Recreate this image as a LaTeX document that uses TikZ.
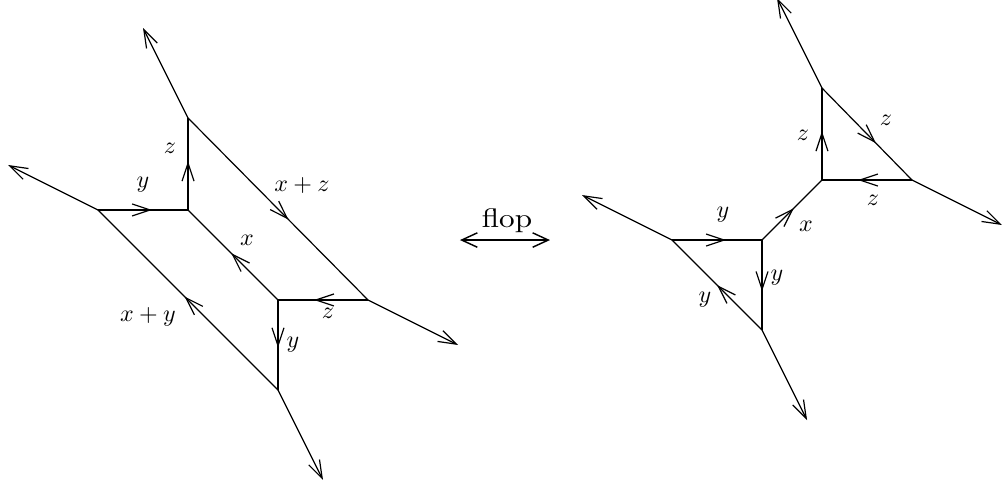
\documentclass[tikz,border=0pt]{standalone}
\usetikzlibrary{arrows.meta,decorations.markings}
\begin{document}
\begin{tikzpicture}[x=1.318cm,y=1.318cm,
  >={Straight Barb[length=7.5pt,width=5pt]},
  edge/.style={line width=0.5pt},
  ray/.style={edge,->},
  midarr/.style={edge,postaction={decorate,decoration={markings,mark=at position #1 with {\arrow{>}}}}},
  lbl/.style={inner sep=0pt},
  floparrow/.style={line width=1.1pt,{Straight Barb[length=6.5pt,width=6pt,line width=0.6pt]}-{Straight Barb[length=6.5pt,width=6pt,line width=0.6pt]}}
]
\useasboundingbox (0,0) rectangle (11.1667,-5.4);
% left diagram
\coordinate (A) at (1.089,-2.333);
\coordinate (B) at (2.089,-2.333);
\coordinate (C) at (2.089,-1.311);
\coordinate (E) at (3.089,-3.333);
\coordinate (D) at (4.089,-3.333);
\coordinate (F) at (3.089,-4.333);
\coordinate (A1) at (0.089,-1.833);
\coordinate (C1) at (1.589,-0.311);
\coordinate (D1) at (5.089,-3.833);
\coordinate (F1) at (3.589,-5.333);
\draw[midarr=0.6] (A) -- (B);
\draw[midarr=0.53] (B) -- (C);
\draw[midarr=0.56] (C) -- (D);
\draw[midarr=0.52] (E) -- (B);
\draw[midarr=0.6] (D) -- (E);
\draw[midarr=0.53] (E) -- (F);
\draw[midarr=0.52] (F) -- (A);
\draw[ray] (A) -- (A1);
\draw[ray] (C) -- (C1);
\draw[ray] (D) -- (D1);
\draw[ray] (F) -- (F1);
\node[lbl] (lz1) at (1.889,-1.644) {$z$};
\node[lbl] (ly1) at (1.589,-2.056) {$y$};
\node[lbl] (lxz) at (3.356,-2.056) {$x+z$};
\node[lbl] (lx1) at (2.744,-2.667) {$x$};
\node[lbl] (lz2) at (3.644,-3.478) {$z$};
\node[lbl] (ly2) at (3.256,-3.833) {$y$};
\node[lbl] (lxy) at (1.644,-3.522) {$x+y$};
% flop
\coordinate (fl1) at (5.111,-2.667);
\coordinate (fl2) at (6.111,-2.667);
\draw[floparrow] (fl1) -- (fl2);
\node[lbl] (flop) at (5.633,-2.45) {\scalebox{1.3}[1.12]{flop}};
% right diagram
\coordinate (G) at (7.467,-2.667);
\coordinate (H) at (8.467,-2.667);
\coordinate (I) at (8.467,-3.667);
\coordinate (J) at (9.133,-2.0);
\coordinate (K) at (9.133,-0.978);
\coordinate (L) at (10.133,-2.0);
\coordinate (G1) at (6.467,-2.167);
\coordinate (I1) at (8.967,-4.667);
\coordinate (K1) at (8.633,0.022);
\coordinate (L1) at (11.133,-2.5);
\draw[midarr=0.6] (G) -- (H);
\draw[midarr=0.57] (H) -- (I);
\draw[midarr=0.5] (I) -- (G);
\draw[midarr=0.53] (H) -- (J);
\draw[midarr=0.53] (J) -- (K);
\draw[midarr=0.6] (K) -- (L);
\draw[midarr=0.6] (L) -- (J);
\draw[ray] (G) -- (G1);
\draw[ray] (I) -- (I1);
\draw[ray] (K) -- (K1);
\draw[ray] (L) -- (L1);
\node[lbl] (rz1) at (8.922,-1.5) {$z$};
\node[lbl] (rz2) at (9.844,-1.333) {$z$};
\node[lbl] (rz3) at (9.7,-2.222) {$z$};
\node[lbl] (rx) at (8.956,-2.511) {$x$};
\node[lbl] (ry1) at (8.033,-2.389) {$y$};
\node[lbl] (ry2) at (8.633,-3.089) {$y$};
\node[lbl] (ry3) at (7.833,-3.333) {$y$};
\end{tikzpicture}
\end{document}
